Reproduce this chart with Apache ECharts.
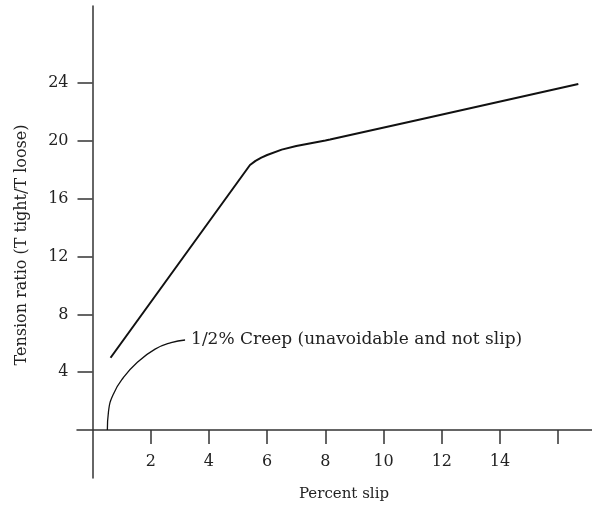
<!DOCTYPE html>
<html>
<head>
<meta charset="utf-8">
<script src="https://cdn.jsdelivr.net/npm/echarts@6/dist/echarts.min.js"></script>
<style>html,body{margin:0;padding:0;background:#fff}#c{width:592px;height:508px}</style>
</head>
<body>
<div id="c"></div>
<script>
// Main tension-ratio curve (percent slip, tension ratio)
const slipX = [0.62, 5.41, 5.6, 5.8, 6.0, 6.5, 7.0, 7.5, 8.0, 8.16, 11.25, 16.69];
const ratioY = [5.0, 18.34, 18.62, 18.85, 19.03, 19.4, 19.65, 19.85, 20.03, 20.1, 21.49, 23.94];
// Creep arc
const creepX = [0.51, 0.55, 0.72, 1.05, 1.55, 2.15, 2.7, 3.18];
const creepY = [0.0, 1.3, 2.5, 3.6, 4.7, 5.6, 6.05, 6.23];
const creepLabel = '1/2% Creep (unavoidable and not slip)';
const xTicks = [2, 4, 6, 8, 10, 12, 14, 16];
const xTickLabels = [2, 4, 6, 8, 10, 12, 14];
const yTicks = [4, 8, 12, 16, 20, 24];
const xTitle = 'Percent slip';
const yTitle = 'Tension ratio (T tight/T loose)';

const FONT = '"DejaVu Serif", "Liberation Serif", serif';
const chart = echarts.init(document.getElementById('c'), null, {renderer: 'canvas'});
chart.setOption({
  animation: false,
  backgroundColor: '#fff',
  grid: {left: 77, right: 0, top: 6, bottom: 30, containLabel: false, outerBoundsMode: 'none'},
  xAxis: {
    type: 'value', min: -0.533, max: 17.16, position: 'bottom', offset: -48,
    axisLine: {show: true, onZero: false, lineStyle: {color: '#333', width: 1.5}},
    axisTick: {show: true, inside: false, length: 14, customValues: xTicks, lineStyle: {color: '#333', width: 1.5}},
    axisLabel: {show: true, customValues: xTickLabels, margin: 24, color: '#222', fontFamily: FONT, fontSize: 16},
    splitLine: {show: false}
  },
  yAxis: {
    type: 'value', min: -3.32, max: 29.34, position: 'left', offset: -15.5,
    axisLine: {show: true, onZero: false, lineStyle: {color: '#333', width: 1.5}},
    axisTick: {show: true, inside: false, length: 15, customValues: yTicks, lineStyle: {color: '#333', width: 1.5}},
    axisLabel: {show: true, customValues: yTicks, margin: 24, color: '#222', fontFamily: FONT, fontSize: 16},
    splitLine: {show: false}
  },
  graphic: [
    {type: 'text', x: 344, y: 494, style: {text: xTitle, font: '15px ' + FONT, fill: '#222', align: 'center', verticalAlign: 'middle'}},
    {type: 'text', x: 22, y: 245, rotation: Math.PI / 2, style: {text: yTitle, font: '16px ' + FONT, fill: '#222', align: 'center', verticalAlign: 'middle'}}
  ],
  series: [
    {
      type: 'line', data: slipX.map((x, i) => [x, ratioY[i]]),
      showSymbol: false, symbol: 'none',
      lineStyle: {color: '#111', width: 2}
    },
    {
      type: 'line', data: creepX.map((x, i) => [x, creepY[i]]),
      showSymbol: false, symbol: 'none', smooth: true,
      lineStyle: {color: '#111', width: 1.3},
      endLabel: {show: true, formatter: creepLabel, distance: 6, color: '#222', fontFamily: FONT, fontSize: 17}
    }
  ]
});
</script>
</body>
</html>
